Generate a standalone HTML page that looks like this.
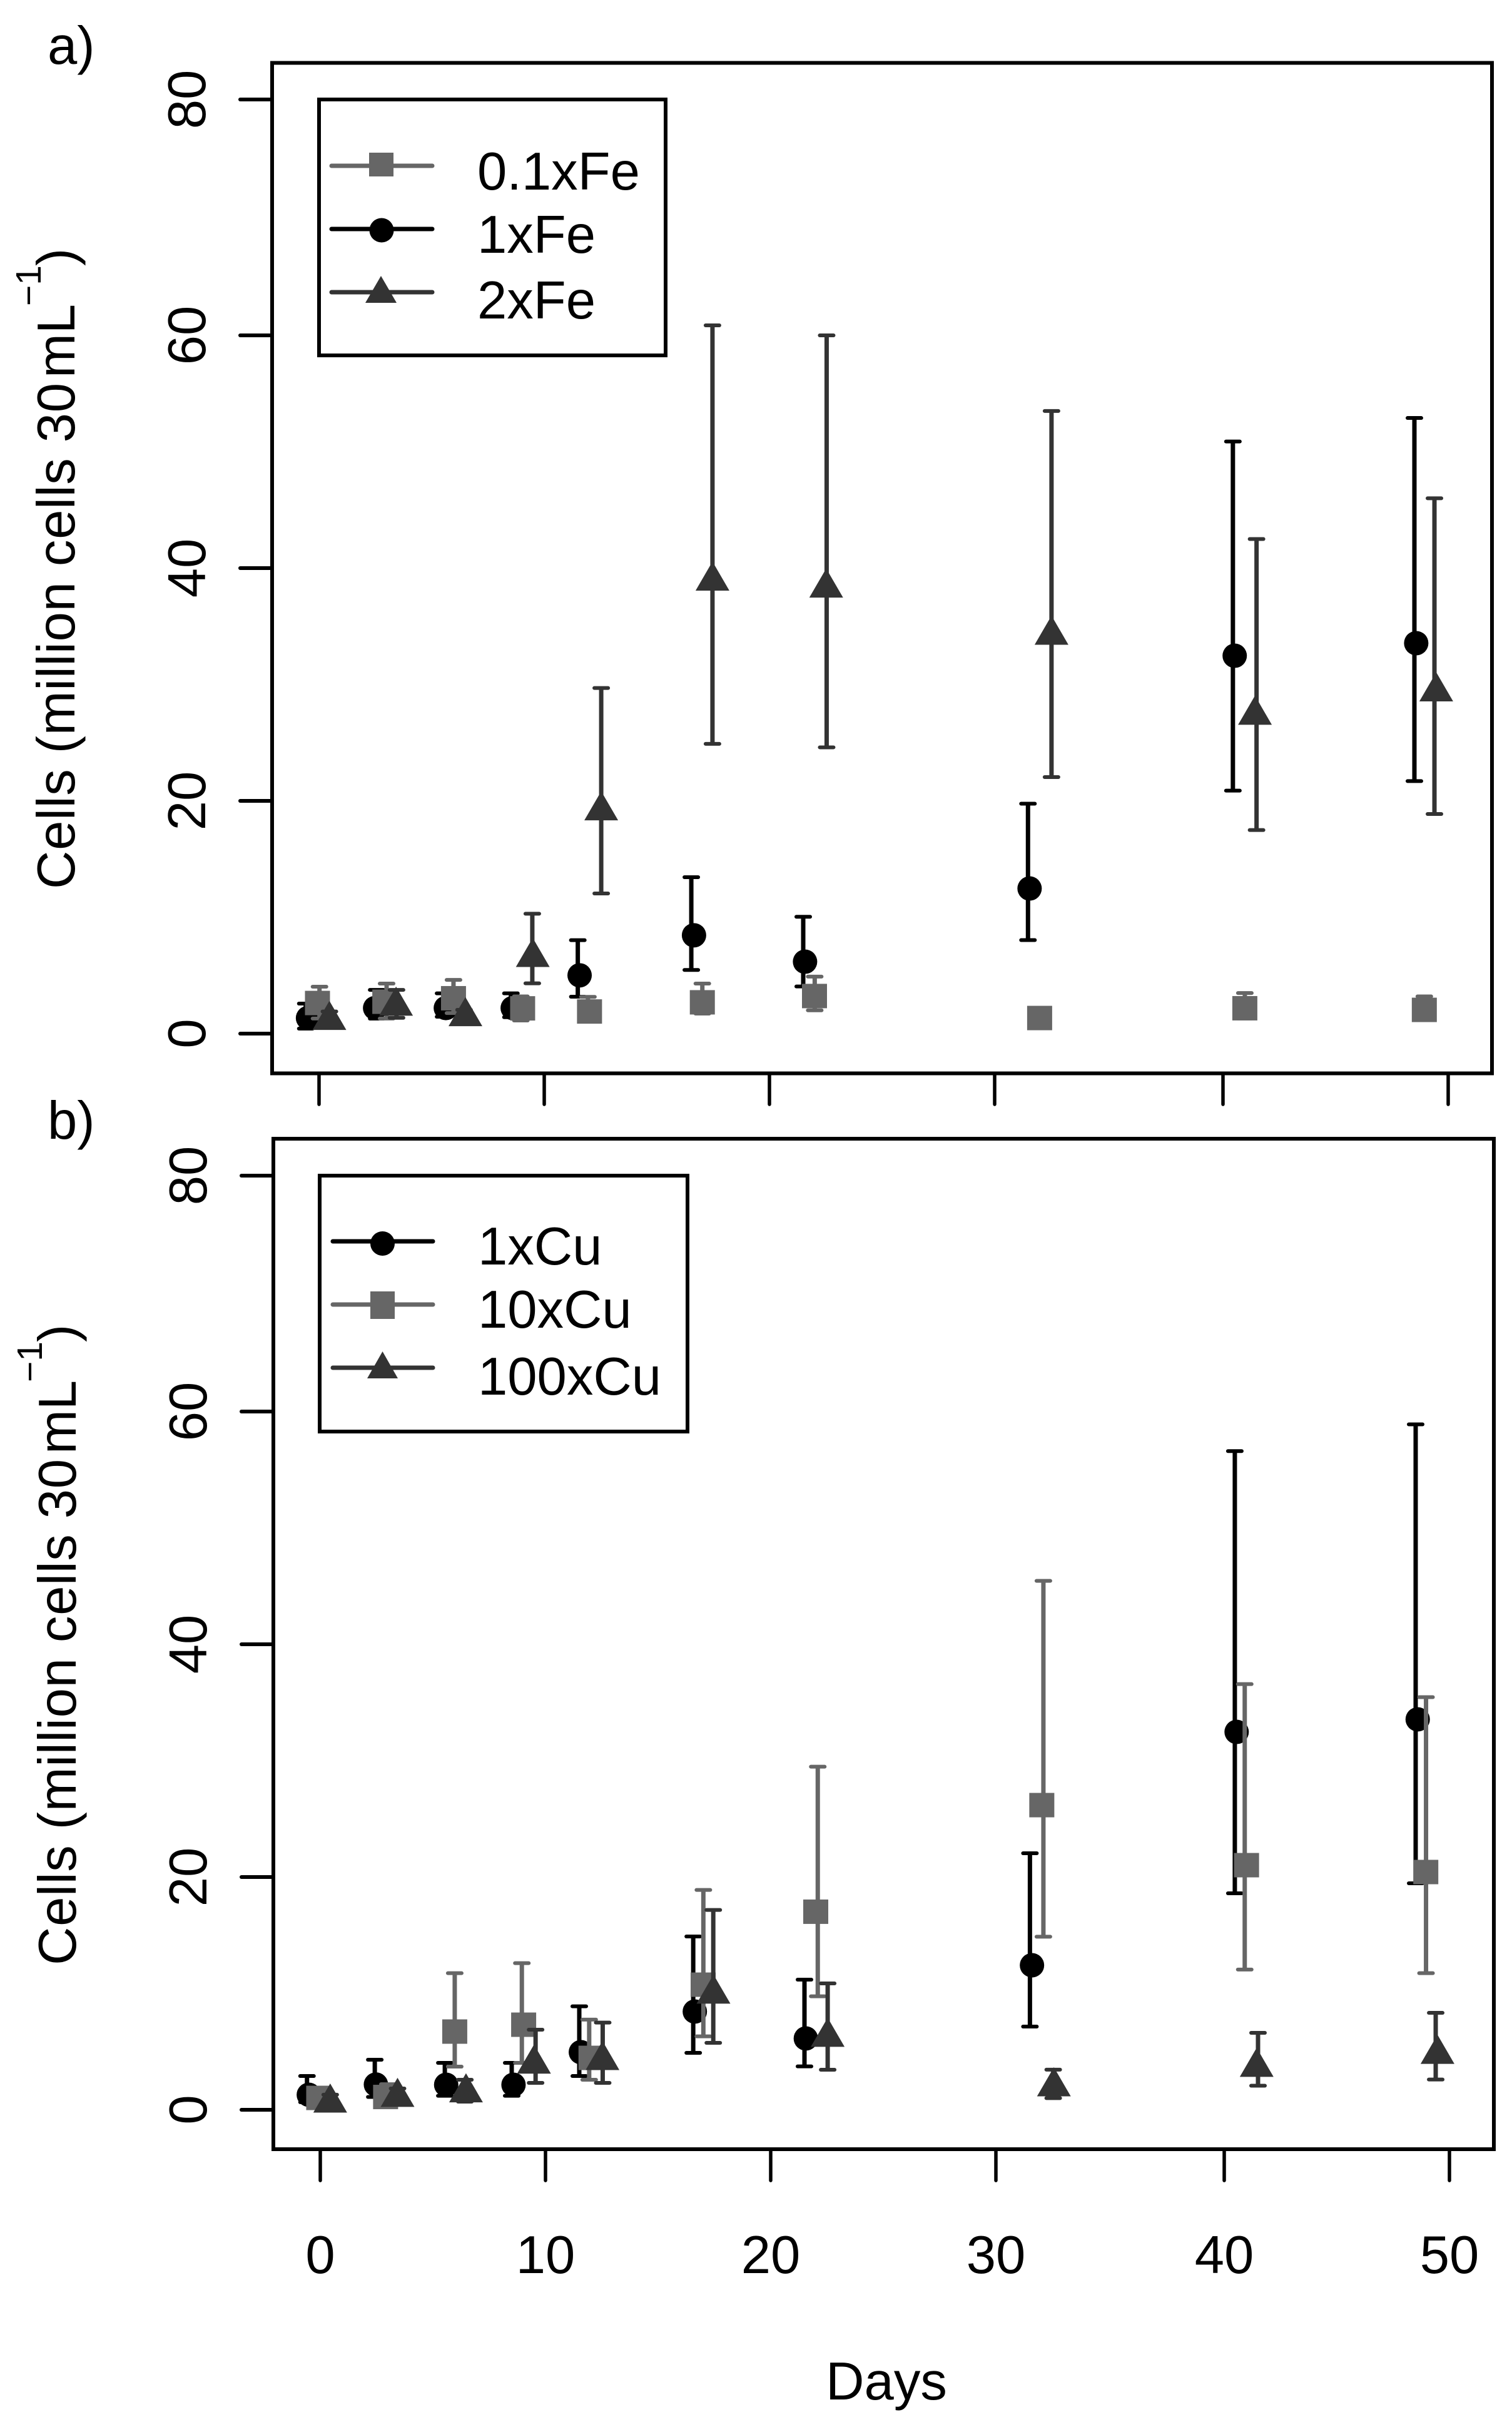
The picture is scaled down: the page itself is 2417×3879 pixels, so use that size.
<!DOCTYPE html>
<html lang="en">
<head>
<meta charset="utf-8">
<title>Cells over days by Fe and Cu treatment</title>
<style>
  html, body { margin: 0; padding: 0; background: #ffffff; }
  svg { display: block; }
  text { font-family: "Liberation Sans", Arial, sans-serif; font-size: 85px; fill: #000; }
</style>
</head>
<body>
<svg id="chart" xmlns="http://www.w3.org/2000/svg" width="2417" height="3879" viewBox="0 0 2417 3879">
  <rect x="0" y="0" width="2417" height="3879" fill="#ffffff"/>

  <g id="panelA">
    <text x="76" y="102">a)</text>
    <g>
      <text transform="translate(119,1421) rotate(-90)" textLength="809" lengthAdjust="spacing">Cells (million cells 30</text>
      <text transform="translate(119,604) rotate(-90)">mL</text>
      <text transform="translate(65,489) rotate(-90)" style="font-size:57px">−1</text>
      <text transform="translate(119,425) rotate(-90)">)</text>
    </g>
    <g id="plotA"></g>
    <rect x="435" y="100.5" width="1950" height="1615" fill="none" stroke="#000" stroke-width="6"/>
    <g>
      <rect x="510" y="159" width="554" height="409" fill="#fff" stroke="#000" stroke-width="6"/>
      <g>
        <line x1="530" y1="265" x2="691" y2="265" stroke="#666666" stroke-width="7" stroke-linecap="round"/>
        <rect x="590" y="244" width="39" height="38" fill="#666666"/>
        <text x="763" y="303">0.1xFe</text>
      </g>
      <g>
        <line x1="530" y1="366" x2="691" y2="366" stroke="#000000" stroke-width="7" stroke-linecap="round"/>
        <circle cx="610" cy="368" r="19.5" fill="#000000"/>
        <text x="763" y="404">1xFe</text>
      </g>
      <g>
        <line x1="530" y1="467" x2="691" y2="467" stroke="#333333" stroke-width="7" stroke-linecap="round"/>
        <polygon points="609,441 634,484 584,484" fill="#333333"/>
        <text x="763" y="509">2xFe</text>
      </g>
    </g>
  </g>

  <g id="panelB">
    <text x="76" y="1820">b)</text>
    <g>
      <text transform="translate(121,3141) rotate(-90)" textLength="809" lengthAdjust="spacing">Cells (million cells 30</text>
      <text transform="translate(121,2324) rotate(-90)">mL</text>
      <text transform="translate(67,2209) rotate(-90)" style="font-size:57px">−1</text>
      <text transform="translate(121,2145) rotate(-90)">)</text>
    </g>
    <g id="plotB"></g>
    <rect x="437" y="1820" width="1951" height="1615" fill="none" stroke="#000" stroke-width="6"/>
    <g>
      <rect x="511" y="1879" width="588" height="409" fill="#fff" stroke="#000" stroke-width="6"/>
      <g>
        <line x1="532" y1="1984" x2="692" y2="1984" stroke="#000000" stroke-width="7" stroke-linecap="round"/>
        <circle cx="611.5" cy="1987.5" r="19.5" fill="#000000"/>
        <text x="764" y="2021">1xCu</text>
      </g>
      <g>
        <line x1="532" y1="2085" x2="692" y2="2085" stroke="#666666" stroke-width="7" stroke-linecap="round"/>
        <rect x="592" y="2064" width="39" height="44" fill="#666666"/>
        <text x="764" y="2122">10xCu</text>
      </g>
      <g>
        <line x1="532" y1="2186" x2="692" y2="2186" stroke="#333333" stroke-width="7" stroke-linecap="round"/>
        <polygon points="611.5,2160 636,2203 587,2203" fill="#333333"/>
        <text x="764" y="2229">100xCu</text>
      </g>
    </g>
  </g>

  <text x="1417" y="3835" text-anchor="middle">Days</text>
</svg>

<script>
// Axis tick labels
const xTickLabels = [0, 10, 20, 30, 40, 50];
const yTickLabels = [0, 20, 40, 60, 80];

// Panel a: 1xFe
const fe1Days = [-0.49, 2.49, 5.63, 8.60, 11.57, 16.65, 21.58, 31.53, 40.52, 48.58];
const fe1BarDays = [-0.59, 2.56, 5.53, 8.52, 11.49, 16.53, 21.5, 31.46, 40.44, 48.5];
const fe1Values = [1.34, 2.2, 2.2, 2.2, 5.01, 8.45, 6.18, 12.47, 32.47, 33.55];
const fe1Upper = [2.58, 3.76, 3.46, 3.46, 8.03, 13.44, 10.04, 19.76, 50.88, 52.9];
const fe1Lower = [0.43, 1.29, 1.45, 1.41, 3.17, 5.47, 4.05, 8.04, 20.88, 21.7];

// Panel a: 0.1xFe
const fe01Days = [-0.07, 2.92, 5.97, 9.04, 12.01, 17.02, 22.0, 31.97, 40.97, 48.94];
const fe01BarDays = [0.02, 3.0, 5.97, 8.96, 11.94, 17.02, 22.01, 31.97, 40.97, 48.94];
const fe01Values = [2.63, 2.74, 3.04, 2.17, 1.9, 2.69, 3.23, 1.34, 2.18, 2.04];
const fe01Upper = [4.03, 4.3, 4.62, 3.2, 3.16, 4.3, 4.9, 1.6, 3.49, 3.2];
const fe01Lower = [1.3, 1.3, 1.77, 1.13, 1.1, 1.72, 2.0, 1.1, 1.3, 1.2];

// Panel a: 2xFe
const fe2Days = [0.46, 3.42, 6.5, 9.49, 12.53, 17.47, 22.52, 32.49, 41.42, 49.47];
const fe2BarDays = [0.46, 3.44, 6.44, 9.47, 12.53, 17.47, 22.54, 32.49, 41.49, 49.39];
const fe2Values = [1.15, 2.37, 1.47, 6.56, 19.16, 38.9, 38.3, 34.25, 27.37, 29.38];
const fe2Upper = [1.9, 3.76, 2.04, 10.3, 29.7, 60.85, 60.0, 53.5, 42.5, 46.0];
const fe2Lower = [0.6, 1.36, 1.0, 4.32, 12.04, 24.9, 24.6, 22.04, 17.49, 18.87];

// Panel b: 1xCu
const cu1Days = [-0.51, 2.47, 5.59, 8.58, 11.57, 16.63, 21.56, 31.58, 40.55, 48.59];
const cu1BarDays = [-0.59, 2.42, 5.53, 8.5, 11.5, 16.56, 21.5, 31.49, 40.47, 48.5];
const cu1Values = [1.29, 2.17, 2.15, 2.15, 4.95, 8.44, 6.13, 12.42, 32.47, 33.55];
const cu1Upper = [2.9, 4.3, 4.03, 4.03, 8.89, 14.89, 11.18, 22.04, 56.6, 58.9];
const cu1Lower = [0.65, 1.1, 1.2, 1.2, 2.9, 4.89, 3.73, 7.15, 18.6, 19.46];

// Panel b: 10xCu
const cu10Days = [-0.07, 2.9, 5.97, 9.03, 12.02, 17.0, 22.0, 32.01, 40.99, 48.95];
const cu10BarDays = [-0.07, 3.0, 5.97, 8.95, 11.94, 17.01, 22.09, 32.08, 40.91, 48.96];
const cu10Values = [1.02, 1.1, 6.72, 7.31, 4.46, 10.75, 17.02, 26.18, 21.02, 20.43];
const cu10Upper = [1.5, 2.2, 11.74, 12.6, 7.75, 18.89, 29.48, 45.45, 36.58, 35.46];
const cu10Lower = [0.6, 0.4, 3.71, 4.03, 2.58, 6.31, 9.75, 14.87, 12.05, 11.74];

// Panel b: 100xCu
const cu100Days = [0.44, 3.43, 6.47, 9.49, 12.53, 17.46, 22.53, 32.54, 41.44, 49.47];
const cu100BarDays = [0.44, 3.43, 6.42, 9.56, 12.54, 17.45, 22.53, 32.51, 41.5, 49.39];
const cu100Values = [0.59, 1.08, 1.47, 3.94, 4.25, 9.95, 6.24, 1.99, 3.66, 4.78];
const cu100Upper = [1.3, 1.83, 2.58, 6.88, 7.49, 17.17, 10.86, 3.45, 6.61, 8.33];
const cu100Lower = [0.3, 0.5, 0.7, 2.31, 2.31, 5.75, 3.44, 1.0, 2.07, 2.6];

const SVG_NS = 'http://www.w3.org/2000/svg';

// Axis functions: origin offsets per panel with the reference's slight scale changes.
function xScale(x0, d) {
  if (d <= 30) return x0 + 36 * d;
  if (d <= 40) return x0 + 1080 + 36.5 * (d - 30);
  return x0 + 1445 + 36 * (d - 40);
}
function yScale(y0, v) {
  if (v <= 60) return y0 - 18.6 * v;
  return y0 - 1116 - 18.85 * (v - 60);
}

function drawXTick(group, x0, y0, label, showLabel) {
  const px = xScale(x0, label);
  const tick = document.createElementNS(SVG_NS, 'line');
  
  
  tick.setAttribute('x1', px);
  tick.setAttribute('x2', px);
  tick.setAttribute('y1', y0 + 64);
  tick.setAttribute('y2', y0 + 113);
  tick.setAttribute('stroke', '#000');
  tick.setAttribute('stroke-width', '5.5');
  tick.setAttribute('stroke-linecap', 'round');
  group.appendChild(tick);
  if (showLabel) {
    const text = document.createElementNS(SVG_NS, 'text');
    
    
    text.setAttribute('x', px);
    text.setAttribute('y', 3633);
    text.setAttribute('text-anchor', 'middle');
    text.textContent = label;
    group.appendChild(text);
  }
}

function drawYTick(group, axisX, y0, label) {
  const py = yScale(y0, label);
  const tick = document.createElementNS(SVG_NS, 'line');
  
  
  tick.setAttribute('x1', axisX - 51);
  tick.setAttribute('x2', axisX);
  tick.setAttribute('y1', py);
  tick.setAttribute('y2', py);
  tick.setAttribute('stroke', '#000');
  tick.setAttribute('stroke-width', '6');
  tick.setAttribute('stroke-linecap', 'round');
  group.appendChild(tick);
  const text = document.createElementNS(SVG_NS, 'text');
  
  
  text.setAttribute('transform', 'translate(' + (axisX - 107) + ',' + py + ') rotate(-90)');
  text.setAttribute('text-anchor', 'middle');
  text.textContent = label;
  group.appendChild(text);
}

function drawErrorBar(group, seriesName, color, x0, y0, day, upper, lower) {
  const px = xScale(x0, day);
  const top = yScale(y0, upper);
  const bottom = yScale(y0, lower);
  const stem = document.createElementNS(SVG_NS, 'line');
  
  
  stem.setAttribute('x1', px);
  stem.setAttribute('x2', px);
  stem.setAttribute('y1', top);
  stem.setAttribute('y2', bottom);
  stem.setAttribute('stroke', color);
  stem.setAttribute('stroke-width', '7');
  group.appendChild(stem);
  const capTop = document.createElementNS(SVG_NS, 'line');
  
  
  capTop.setAttribute('x1', px - 11);
  capTop.setAttribute('x2', px + 11);
  capTop.setAttribute('y1', top);
  capTop.setAttribute('y2', top);
  capTop.setAttribute('stroke', color);
  capTop.setAttribute('stroke-width', '6');
  capTop.setAttribute('stroke-linecap', 'round');
  group.appendChild(capTop);
  const capBottom = document.createElementNS(SVG_NS, 'line');
  
  
  capBottom.setAttribute('x1', px - 11);
  capBottom.setAttribute('x2', px + 11);
  capBottom.setAttribute('y1', bottom);
  capBottom.setAttribute('y2', bottom);
  capBottom.setAttribute('stroke', color);
  capBottom.setAttribute('stroke-width', '6');
  capBottom.setAttribute('stroke-linecap', 'round');
  group.appendChild(capBottom);
}

function drawMarker(group, seriesName, shape, color, x0, y0, day, value) {
  const px = xScale(x0, day);
  const py = yScale(y0, value);
  let mark;
  if (shape === 'circle') {
    mark = document.createElementNS(SVG_NS, 'circle');
    mark.setAttribute('cx', px);
    mark.setAttribute('cy', py);
    mark.setAttribute('r', 19.5);
  } else if (shape === 'square') {
    mark = document.createElementNS(SVG_NS, 'rect');
    mark.setAttribute('x', px - 20);
    mark.setAttribute('y', py - 19.5);
    mark.setAttribute('width', 40);
    mark.setAttribute('height', 39);
  } else {
    mark = document.createElementNS(SVG_NS, 'polygon');
    mark.setAttribute('points', px + ',' + (py - 31) + ' ' + (px + 27) + ',' + (py + 15.5) + ' ' + (px - 27) + ',' + (py + 15.5));
  }
  
  
  mark.setAttribute('fill', color);
  group.appendChild(mark);
}

function drawSeries(group, seriesName, shape, color, x0, y0, days, barDays, values, upper, lower) {
  values.forEach(function (value, i) {
    drawErrorBar(group, seriesName, color, x0, y0, barDays[i], upper[i], lower[i]);
    drawMarker(group, seriesName, shape, color, x0, y0, days[i], value);
  });
}

const plotA = document.getElementById('plotA');
xTickLabels.forEach(function (label) { drawXTick(plotA, 510, 1652, label, false); });
yTickLabels.forEach(function (label) { drawYTick(plotA, 435, 1652, label); });
drawSeries(plotA, '1xFe', 'circle', '#000000', 510, 1652, fe1Days, fe1BarDays, fe1Values, fe1Upper, fe1Lower);
drawSeries(plotA, '0.1xFe', 'square', '#666666', 510, 1652, fe01Days, fe01BarDays, fe01Values, fe01Upper, fe01Lower);
drawSeries(plotA, '2xFe', 'triangle', '#333333', 510, 1652, fe2Days, fe2BarDays, fe2Values, fe2Upper, fe2Lower);

const plotB = document.getElementById('plotB');
xTickLabels.forEach(function (label) { drawXTick(plotB, 512, 3372, label, true); });
yTickLabels.forEach(function (label) { drawYTick(plotB, 437, 3372, label); });
drawSeries(plotB, '1xCu', 'circle', '#000000', 512, 3372, cu1Days, cu1BarDays, cu1Values, cu1Upper, cu1Lower);
drawSeries(plotB, '10xCu', 'square', '#666666', 512, 3372, cu10Days, cu10BarDays, cu10Values, cu10Upper, cu10Lower);
drawSeries(plotB, '100xCu', 'triangle', '#333333', 512, 3372, cu100Days, cu100BarDays, cu100Values, cu100Upper, cu100Lower);
</script>
</body>
</html>
